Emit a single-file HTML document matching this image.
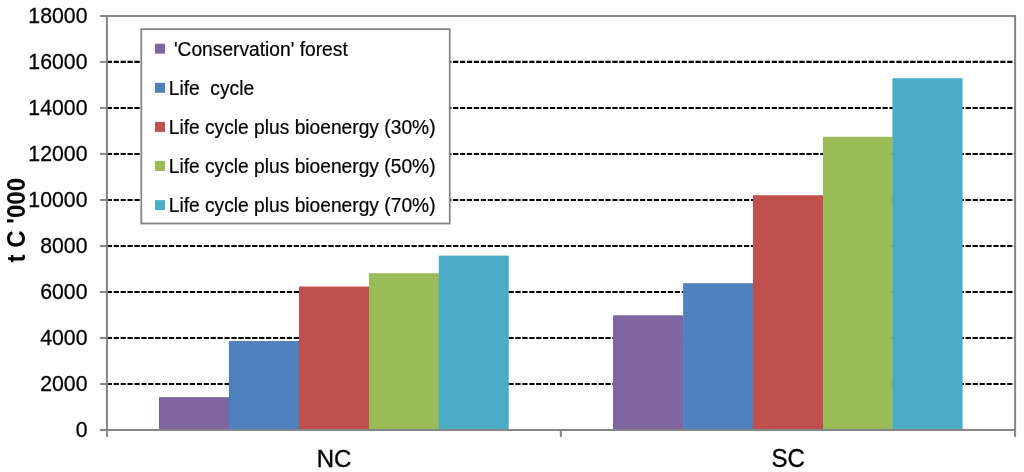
<!DOCTYPE html>
<html><head><meta charset="utf-8"><title>Chart</title>
<style>html,body{margin:0;padding:0;background:#fff;}svg{display:block;will-change:transform;opacity:0.999;filter:blur(0.4px)}text{font-family:"Liberation Sans",Arial,sans-serif;fill:#000}</style></head><body>
<svg width="1024" height="472" viewBox="0 0 1024 472">
<rect width="1024" height="472" fill="#fff"/>
<line x1="106.7" x2="1015.1" y1="61.92" y2="61.92" stroke="#000" stroke-width="2.1" stroke-dasharray="5.25 1.677"/>
<line x1="106.7" x2="1015.1" y1="107.93" y2="107.93" stroke="#000" stroke-width="2.1" stroke-dasharray="5.25 1.677"/>
<line x1="106.7" x2="1015.1" y1="153.95" y2="153.95" stroke="#000" stroke-width="2.1" stroke-dasharray="5.25 1.677"/>
<line x1="106.7" x2="1015.1" y1="199.97" y2="199.97" stroke="#000" stroke-width="2.1" stroke-dasharray="5.25 1.677"/>
<line x1="106.7" x2="1015.1" y1="245.98" y2="245.98" stroke="#000" stroke-width="2.1" stroke-dasharray="5.25 1.677"/>
<line x1="106.7" x2="1015.1" y1="292.00" y2="292.00" stroke="#000" stroke-width="2.1" stroke-dasharray="5.25 1.677"/>
<line x1="106.7" x2="1015.1" y1="338.02" y2="338.02" stroke="#000" stroke-width="2.1" stroke-dasharray="5.25 1.677"/>
<line x1="106.7" x2="1015.1" y1="384.03" y2="384.03" stroke="#000" stroke-width="2.1" stroke-dasharray="5.25 1.677"/>
<rect x="159.00" y="397.15" width="70.20" height="32.90" fill="#8064A2"/>
<rect x="228.90" y="341.05" width="70.40" height="89.00" fill="#4F81BD"/>
<rect x="299.00" y="286.5" width="70.25" height="143.55" fill="#C0504D"/>
<rect x="368.95" y="273.2" width="70.15" height="156.85" fill="#9BBB59"/>
<rect x="438.80" y="255.6" width="69.95" height="174.45" fill="#4BACC6"/>
<rect x="613.00" y="315.3" width="70.40" height="114.75" fill="#8064A2"/>
<rect x="683.10" y="283.2" width="70.20" height="146.85" fill="#4F81BD"/>
<rect x="753.00" y="195.26" width="70.30" height="234.79" fill="#C0504D"/>
<rect x="823.00" y="136.8" width="69.70" height="293.25" fill="#9BBB59"/>
<rect x="892.40" y="78.2" width="70.20" height="351.85" fill="#4BACC6"/>
<path d="M100 15.9 H1015.1 V437.05" fill="none" stroke="#868686" stroke-width="2"/>
<path d="M106.95 15.9 V437.05" fill="none" stroke="#868686" stroke-width="2"/>
<path d="M100 430.05 H1015.1" fill="none" stroke="#868686" stroke-width="2"/>
<path d="M560.8 430.05 V437.05" fill="none" stroke="#868686" stroke-width="2"/>
<line x1="100" x2="106.95" y1="61.92" y2="61.92" stroke="#868686" stroke-width="2"/>
<line x1="100" x2="106.95" y1="107.93" y2="107.93" stroke="#868686" stroke-width="2"/>
<line x1="100" x2="106.95" y1="153.95" y2="153.95" stroke="#868686" stroke-width="2"/>
<line x1="100" x2="106.95" y1="199.97" y2="199.97" stroke="#868686" stroke-width="2"/>
<line x1="100" x2="106.95" y1="245.98" y2="245.98" stroke="#868686" stroke-width="2"/>
<line x1="100" x2="106.95" y1="292.00" y2="292.00" stroke="#868686" stroke-width="2"/>
<line x1="100" x2="106.95" y1="338.02" y2="338.02" stroke="#868686" stroke-width="2"/>
<line x1="100" x2="106.95" y1="384.03" y2="384.03" stroke="#868686" stroke-width="2"/>
<text transform="translate(87.5,22.90) scale(0.946,1)" font-size="22.5" text-anchor="end" stroke="#000" stroke-width="0.3">18000</text>
<text transform="translate(87.5,68.92) scale(0.946,1)" font-size="22.5" text-anchor="end" stroke="#000" stroke-width="0.3">16000</text>
<text transform="translate(87.5,114.93) scale(0.946,1)" font-size="22.5" text-anchor="end" stroke="#000" stroke-width="0.3">14000</text>
<text transform="translate(87.5,160.95) scale(0.946,1)" font-size="22.5" text-anchor="end" stroke="#000" stroke-width="0.3">12000</text>
<text transform="translate(87.5,206.97) scale(0.946,1)" font-size="22.5" text-anchor="end" stroke="#000" stroke-width="0.3">10000</text>
<text transform="translate(87.5,252.98) scale(0.946,1)" font-size="22.5" text-anchor="end" stroke="#000" stroke-width="0.3">8000</text>
<text transform="translate(87.5,299.00) scale(0.946,1)" font-size="22.5" text-anchor="end" stroke="#000" stroke-width="0.3">6000</text>
<text transform="translate(87.5,345.02) scale(0.946,1)" font-size="22.5" text-anchor="end" stroke="#000" stroke-width="0.3">4000</text>
<text transform="translate(87.5,391.03) scale(0.946,1)" font-size="22.5" text-anchor="end" stroke="#000" stroke-width="0.3">2000</text>
<text transform="translate(87.5,437.05) scale(0.946,1)" font-size="22.5" text-anchor="end" stroke="#000" stroke-width="0.3">0</text>
<rect x="141.3" y="29.15" width="308.45" height="194.35" fill="#fff" stroke="#868686" stroke-width="1.8"/>
<rect x="155" y="43.70" width="10" height="10" fill="#8064A2"/>
<text transform="translate(173.9,55.50) scale(0.995,1)" font-size="19.3" stroke="#000" stroke-width="0.2" xml:space="preserve">'Conservation' forest</text>
<rect x="155" y="82.80" width="10" height="10" fill="#4F81BD"/>
<text transform="translate(168.7,94.60) scale(0.995,1)" font-size="19.3" stroke="#000" stroke-width="0.2" xml:space="preserve">Life  cycle</text>
<rect x="155" y="121.90" width="10" height="10" fill="#C0504D"/>
<text transform="translate(168.7,133.70) scale(0.995,1)" font-size="19.3" stroke="#000" stroke-width="0.2" xml:space="preserve">Life cycle plus bioenergy (30%)</text>
<rect x="155" y="161.00" width="10" height="10" fill="#9BBB59"/>
<text transform="translate(168.7,172.80) scale(0.995,1)" font-size="19.3" stroke="#000" stroke-width="0.2" xml:space="preserve">Life cycle plus bioenergy (50%)</text>
<rect x="155" y="200.10" width="10" height="10" fill="#4BACC6"/>
<text transform="translate(168.7,211.90) scale(0.995,1)" font-size="19.3" stroke="#000" stroke-width="0.2" xml:space="preserve">Life cycle plus bioenergy (70%)</text>
<text transform="translate(334.1,466.9) scale(0.968,1)" font-size="24.8" text-anchor="middle" stroke="#000" stroke-width="0.35">NC</text>
<text transform="translate(788.1,467.1) scale(0.955,1)" font-size="25.2" text-anchor="middle" stroke="#000" stroke-width="0.35">SC</text>
<text transform="translate(25.4,220.2) rotate(-90) scale(0.962,1)" font-size="25" font-weight="bold" text-anchor="middle">t C '000</text>
</svg></body></html>
